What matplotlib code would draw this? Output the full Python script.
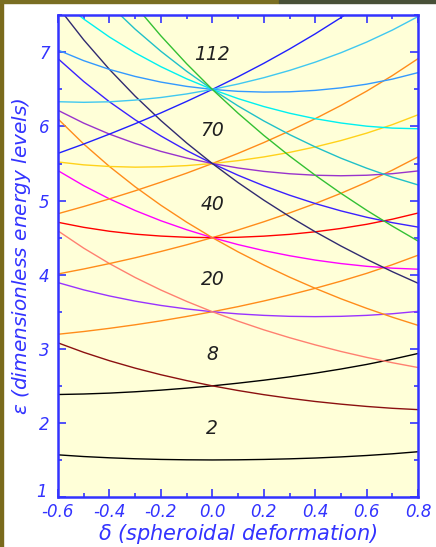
import numpy as np
import matplotlib.pyplot as plt
import matplotlib.transforms as mtransforms
from matplotlib.patches import Rectangle
from matplotlib.ticker import MultipleLocator

delta = [-0.6, -0.5, -0.4, -0.3, -0.2, -0.1, 0.0, 0.1, 0.2, 0.3, 0.4, 0.5, 0.6, 0.7, 0.8]

# shell N=0
e_00 = [1.569, 1.546, 1.529, 1.516, 1.507, 1.502, 1.500, 1.502, 1.507, 1.515, 1.526, 1.541, 1.560, 1.583, 1.611]
# shell N=1
e_10 = [2.383, 2.390, 2.402, 2.420, 2.442, 2.469, 2.500, 2.536, 2.576, 2.621, 2.671, 2.727, 2.789, 2.859, 2.937]
e_01 = [3.080, 2.952, 2.839, 2.739, 2.650, 2.571, 2.500, 2.437, 2.381, 2.332, 2.289, 2.253, 2.222, 2.197, 2.179]
# shell N=2
e_20 = [3.196, 3.233, 3.276, 3.324, 3.377, 3.436, 3.500, 3.569, 3.645, 3.727, 3.816, 3.913, 4.018, 4.135, 4.263]
e_11 = [3.893, 3.795, 3.713, 3.643, 3.585, 3.538, 3.500, 3.471, 3.451, 3.438, 3.434, 3.438, 3.451, 3.473, 3.505]
e_02 = [4.591, 4.358, 4.150, 3.962, 3.793, 3.640, 3.500, 3.373, 3.256, 3.150, 3.053, 2.964, 2.884, 2.812, 2.747]
# shell N=3
e_30 = [4.010, 4.077, 4.150, 4.228, 4.313, 4.403, 4.500, 4.603, 4.714, 4.833, 4.960, 5.098, 5.248, 5.411, 5.590]
e_21 = [4.707, 4.639, 4.586, 4.547, 4.521, 4.505, 4.500, 4.505, 4.520, 4.544, 4.579, 4.624, 4.680, 4.749, 4.832]
e_12 = [5.404, 5.201, 5.023, 4.866, 4.728, 4.607, 4.500, 4.406, 4.325, 4.256, 4.197, 4.150, 4.113, 4.088, 4.074]
e_03 = [6.102, 5.763, 5.460, 5.186, 4.937, 4.709, 4.500, 4.308, 4.131, 3.967, 3.816, 3.675, 3.546, 3.426, 3.316]
# shell N=4
e_40 = [4.823, 4.920, 5.023, 5.132, 5.248, 5.370, 5.500, 5.637, 5.783, 5.939, 6.105, 6.284, 6.477, 6.687, 6.916]
e_31 = [5.521, 5.482, 5.460, 5.451, 5.456, 5.472, 5.500, 5.539, 5.589, 5.650, 5.724, 5.810, 5.910, 6.025, 6.158]
e_22 = [6.218, 6.045, 5.897, 5.771, 5.664, 5.574, 5.500, 5.440, 5.394, 5.362, 5.342, 5.335, 5.342, 5.363, 5.400]
e_13 = [6.915, 6.607, 6.333, 6.090, 5.872, 5.676, 5.500, 5.342, 5.200, 5.073, 4.960, 4.861, 4.775, 4.702, 4.642]
e_04 = [7.613, 7.169, 6.770, 6.409, 6.080, 5.778, 5.500, 5.243, 5.006, 4.785, 4.579, 4.387, 4.208, 4.040, 3.884]
# shell N=5
e_50 = [5.637, 5.763, 5.897, 6.037, 6.183, 6.338, 6.500, 6.671, 6.852, 7.045, 7.250, 7.469, 7.706, 7.962, 8.242]
e_41 = [6.334, 6.326, 6.333, 6.356, 6.391, 6.439, 6.500, 6.573, 6.658, 6.756, 6.868, 6.995, 7.139, 7.301, 7.484]
e_32 = [7.031, 6.888, 6.770, 6.675, 6.599, 6.541, 6.500, 6.474, 6.464, 6.468, 6.487, 6.521, 6.571, 6.639, 6.727]
e_23 = [7.729, 7.450, 7.207, 6.994, 6.807, 6.643, 6.500, 6.376, 6.269, 6.179, 6.105, 6.047, 6.004, 5.978, 5.969]
e_14 = [8.426, 8.013, 7.644, 7.313, 7.015, 6.745, 6.500, 6.277, 6.075, 5.891, 5.724, 5.572, 5.437, 5.316, 5.211]
e_05 = [9.123, 8.575, 8.081, 7.632, 7.223, 6.847, 6.500, 6.179, 5.880, 5.602, 5.342, 5.098, 4.869, 4.655, 4.453]

levels = [e_00, e_10, e_01, e_20, e_11, e_02, e_30, e_21, e_12, e_03,
          e_40, e_31, e_22, e_13, e_04, e_50, e_41, e_32, e_23, e_14, e_05]
colors = ['black', 'black', '#8b1010', '#ff8c1a', '#9933ff', '#ff8070',
          '#ff8c1a', '#ff0000', '#ff00ff', '#ff8c1a',
          '#ff8c1a', '#ffd21a', '#9933cc', '#3a20ff', '#302a70',
          '#2020ff', '#40c8f0', '#3399ff', '#00f0f0', '#20c0c8', '#33c033']

magic = ['2', '8', '20', '40', '70', '112']
magic_y = [1.93, 2.92, 3.94, 4.95, 5.95, 6.97]

blue = '#3333ff'

fig = plt.figure(figsize=(4.36, 5.47), dpi=100)
fig.patch.set_facecolor('white')
# frame strips from the page
fig.patches.append(Rectangle((0, 0), 0.008, 1, transform=fig.transFigure, color='#7a6a1c', zorder=-1))
fig.patches.append(Rectangle((0, 0.994), 0.64, 0.006, transform=fig.transFigure, color='#7a6e22', zorder=-1))
fig.patches.append(Rectangle((0.64, 0.994), 0.36, 0.006, transform=fig.transFigure, color='#485038', zorder=-1))

ax = fig.add_axes([0.133, 0.0914, 0.826, 0.8806])
ax.set_facecolor('#ffffd8')

for y, c in zip(levels, colors):
    ax.plot(delta, y, color=c, lw=1.0)

for t, y in zip(magic, magic_y):
    ax.text(0.0, y, t, fontsize=13.5, fontstyle='italic', ha='center', va='center', color='#202020')

ax.set_xlim(-0.6, 0.8)
ax.set_ylim(1, 7.5)
ax.xaxis.set_major_locator(MultipleLocator(0.2))
ax.xaxis.set_minor_locator(MultipleLocator(0.1))
ax.yaxis.set_major_locator(MultipleLocator(1))
ax.yaxis.set_minor_locator(MultipleLocator(0.5))
ax.xaxis.set_major_formatter(plt.FuncFormatter(lambda v, p: '%.1f' % v))

for s in ax.spines.values():
    s.set_color(blue)
    s.set_linewidth(1.8)
ax.tick_params(which='both', direction='in', top=True, right=True, color=blue,
               labelcolor=blue, labelsize=12, width=1.2)
ax.tick_params(which='major', length=6)
ax.tick_params(axis='x', which='major', pad=4)
ax.tick_params(axis='y', which='major', pad=6)
ax.tick_params(which='minor', length=3)

fig.canvas.draw()
for lab in ax.get_xticklabels() + ax.get_yticklabels():
    lab.set_fontstyle('italic')
# the "1" sits up and left of the first x label
shift = mtransforms.ScaledTranslation(-3 / 100, 7 / 100, fig.dpi_scale_trans)
for lab in ax.get_yticklabels():
    if lab.get_text() == '1':
        lab.set_transform(lab.get_transform() + shift)

ax.set_xlabel(r'$\delta$ (spheroidal deformation)', fontsize=15, fontstyle='italic', color=blue, labelpad=1)
ax.set_ylabel(r'$\epsilon$ (dimensionless energy levels)', fontsize=14.5, fontstyle='italic', color=blue, labelpad=2)

fig.savefig('out.png', dpi=100)
